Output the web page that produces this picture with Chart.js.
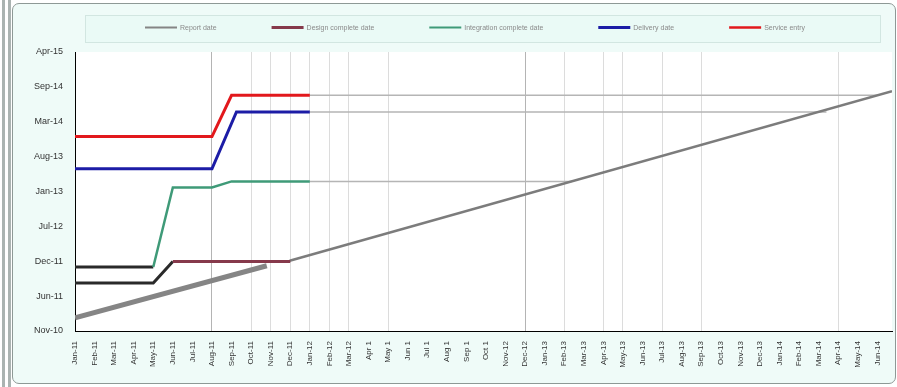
<!DOCTYPE html>
<html>
<head>
<meta charset="utf-8">
<script src="https://cdn.jsdelivr.net/npm/chart.js@4.4.1/dist/chart.umd.min.js"></script>
<style>
  html, body { margin: 0; padding: 0; background: #fff; }
  #wrap  { position: relative; width: 897px; height: 387px; overflow: hidden; }
  .rail  { position: absolute; top: 0; bottom: 0; width: 3px; background: #aab3b1; }
  #frame { position: absolute; left: 12px; top: 3px; width: 884px; height: 381px; box-sizing: border-box;
           border: 1px solid #8e9996; border-radius: 7px; background: #effbf8; }
  canvas { position: absolute; left: 0; top: 0; }
</style>
</head>
<body>
<div id="wrap">
  <div class="rail" style="left:2px"></div>
  <div class="rail" style="left:8px"></div>
  <div id="frame"></div>
  <canvas id="slipChart" width="897" height="387"></canvas>
</div>
<script>
// x = reporting month index (0 = Jan-11), y = forecast date
const xLabels = [
  'Jan-11','Feb-11','Mar-11','Apr-11','May-11','Jun-11','Jul-11','Aug-11','Sep-11','Oct-11','Nov-11','Dec-11',
  'Jan-12','Feb-12','Mar-12','Apr 1','May 1','Jun 1','Jul 1','Aug 1','Sep 1','Oct 1','Nov-12','Dec-12',
  'Jan-13','Feb-13','Mar-13','Apr-13','May-13','Jun-13','Jul-13','Aug-13','Sep-13','Oct-13','Nov-13','Dec-13',
  'Jan-14','Feb-14','Mar-14','Apr-14','May-14','Jun-14'
];
const yTickLabels = ['Nov-10','Jun-11','Dec-11','Jul-12','Jan-13','Aug-13','Mar-14','Sep-14','Apr-15'];
const yOrigin   = '2010-11-20';
const yStepDays = 200;
const xMax      = 41.75;

const seriesNames = ['Report date', 'Design complete date', 'Integration complete date', 'Delivery date', 'Service entry'];

const todayX   = [0, 9.8];
const todayY   = ['2011-02-03', '2011-11-29'];
const todayLateX = [10.97, 41.75];
const todayLateY = ['2011-12-28', '2014-08-26'];

const darkRedX = [5, 11];
const darkRedY = ['2011-12-24', '2011-12-24'];
const greenX   = [4, 5, 7, 8, 12];
const greenY   = ['2011-11-22', '2013-02-20', '2013-02-20', '2013-03-27', '2013-03-27'];
const blueX    = [0, 7, 8.25, 12];
const blueY    = ['2013-06-07', '2013-06-07', '2014-04-29', '2014-04-29'];
const redX     = [0, 7, 8, 12];
const redY     = ['2013-12-09', '2013-12-09', '2014-08-03', '2014-08-03'];

// earlier history drawn in black
const blackAX  = [0, 4];
const blackAY  = ['2011-11-22', '2011-11-22'];
const blackBX  = [0, 4, 5];
const blackBY  = ['2011-08-22', '2011-08-22', '2011-12-24'];

// forecasts carried forward
const greenExtX = [12, 25.4];
const greenExtY = ['2013-03-27', '2013-03-27'];
const blueExtX  = [12, 38.4];
const blueExtY  = ['2014-04-29', '2014-04-29'];
const redExtX   = [12, 41.1];
const redExtY   = ['2014-08-03', '2014-08-03'];

const reportIdx = [7, 9, 10, 11, 12, 13, 14, 16, 23, 25, 27, 28, 30, 32, 39];
const strongIdx = [7, 23];

const toDay = s => (Date.parse(s) - Date.parse(yOrigin)) / 864e5;
const pts   = (xs, ys) => xs.map((x, i) => ({ x, y: toDay(ys[i]) }));

const line = (label, data, color, width) => ({
  label, data, borderColor: color, backgroundColor: color, borderWidth: width,
  pointRadius: 0, tension: 0, fill: false
});

const COLORS = ['#858585', '#86394b', '#3f9a78', '#1c1ca6', '#e2181c'];
const LEGEND_W = [2, 3, 2, 3, 2.5];

const plotBg = {
  id: 'plotBg',
  beforeDraw(chart) {
    const { ctx, chartArea: a } = chart;
    ctx.save();
    ctx.fillStyle = '#ffffff';
    ctx.fillRect(a.left, a.top, a.right - a.left, a.bottom - a.top);
    ctx.restore();
  }
};

const boxLegend = {
  id: 'boxLegend',
  afterDraw(chart) {
    const ctx = chart.ctx;
    ctx.save();
    ctx.fillStyle = '#eafaf6';
    ctx.strokeStyle = '#d2e6e1';
    ctx.lineWidth = 1;
    ctx.fillRect(85.5, 15.5, 795, 27);
    ctx.strokeRect(85.5, 15.5, 795, 27);
    ctx.font = '7px "Liberation Sans", Arial, sans-serif';
    ctx.textBaseline = 'middle';
    let x = 145;
    const y = 27.5;
    seriesNames.forEach((name, i) => {
      ctx.strokeStyle = COLORS[i];
      ctx.lineWidth = LEGEND_W[i];
      ctx.beginPath(); ctx.moveTo(x, y); ctx.lineTo(x + 32, y); ctx.stroke();
      ctx.fillStyle = '#8a8a8a';
      ctx.fillText(name, x + 35, y + 0.5);
      x += 35 + ctx.measureText(name).width + 55;
    });
    ctx.restore();
  }
};

new Chart(document.getElementById('slipChart'), {
  type: 'line',
  data: {
    datasets: [
      line(seriesNames[0], pts(todayX, todayY),     COLORS[0], 5),
      line(seriesNames[1], pts(darkRedX, darkRedY), COLORS[1], 3),
      line(seriesNames[2], pts(greenX, greenY),     COLORS[2], 2.5),
      line(seriesNames[3], pts(blueX, blueY),       COLORS[3], 3),
      line(seriesNames[4], pts(redX, redY),         COLORS[4], 3),
      line('', pts(blackAX, blackAY), '#2a2a2a', 3),
      line('', pts(blackBX, blackBY), '#2a2a2a', 3),
      line('', pts(todayLateX, todayLateY), '#7c7c7c', 2.5),
      line('', pts(greenExtX, greenExtY), '#b5b5b5', 1.5),
      line('', pts(blueExtX, blueExtY),   '#b5b5b5', 1.5),
      line('', pts(redExtX, redExtY),     '#b5b5b5', 1.5),
    ]
  },
  options: {
    responsive: false,
    animation: false,
    layout: { padding: { top: 52, right: 4, bottom: 10, left: 0 } },
    plugins: { legend: { display: false }, tooltip: { enabled: false } },
    scales: {
      x: {
        type: 'linear', min: 0, max: xMax,
        afterFit: s => { s.height = 46; },
        border: { color: '#000', width: 1 },
        grid: {
          drawTicks: false,
          color: c => strongIdx.includes(c.tick?.value) ? '#b4b4b4'
                    : reportIdx.includes(c.tick?.value) ? '#dcdcdc' : 'rgba(0,0,0,0)'
        },
        ticks: {
          stepSize: 1, autoSkip: false, includeBounds: false,
          minRotation: 90, maxRotation: 90, padding: 10,
          color: '#333', font: { family: 'Liberation Sans', size: 8 },
          callback: (v, i) => xLabels[i]
        }
      },
      y: {
        type: 'linear', min: 0, max: yStepDays * 8,
        afterFit: s => { s.width = 75; },
        border: { color: '#000', width: 1 },
        grid: { drawTicks: false, color: 'rgba(0,0,0,0)' },
        ticks: {
          stepSize: yStepDays, padding: 12,
          color: '#333', font: { family: 'Liberation Sans', size: 9 },
          callback: (v, i) => yTickLabels[i]
        }
      }
    }
  },
  plugins: [plotBg, boxLegend]
});
</script>
</body>
</html>
